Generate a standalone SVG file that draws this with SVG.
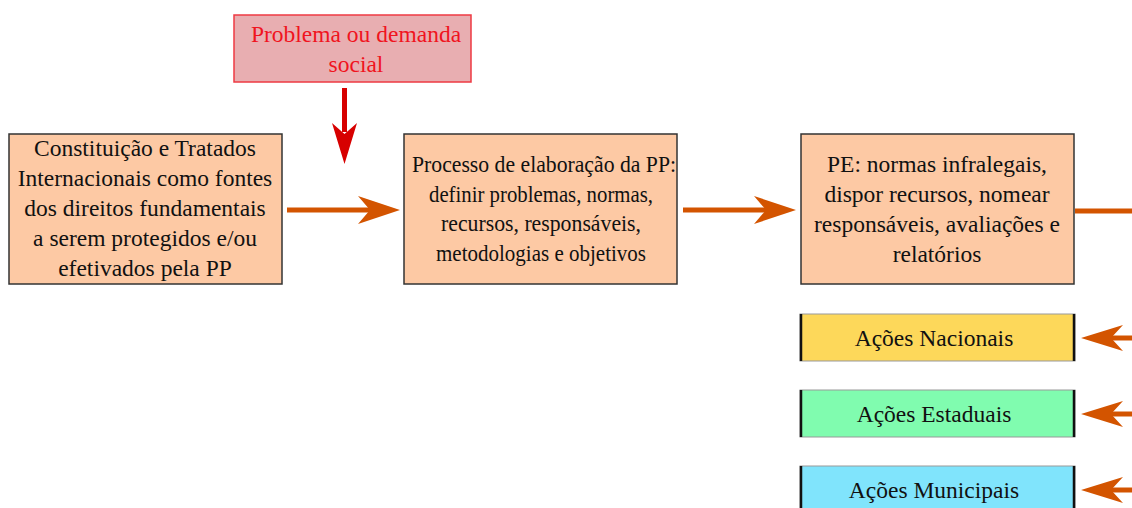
<svg xmlns="http://www.w3.org/2000/svg" width="1132" height="508" viewBox="0 0 1132 508">
<style>
.box{fill:#fdc9a4;stroke:#333;stroke-width:1.5}
.t{font-family:"Liberation Serif","Times New Roman",serif;font-size:23.5px;fill:#111;text-anchor:middle}
.tn{font-family:"Liberation Serif","Times New Roman",serif;font-size:23.5px;fill:#111;text-anchor:middle}
.red{fill:#f0141e}
.conn{stroke:#d35400;stroke-width:5;fill:none}
.head{fill:#d35400}
.act{stroke:#999;stroke-width:1}
.side{stroke:#111;stroke-width:2.5}
</style>
<rect width="1132" height="508" fill="#fff"/>
<g id="problema">
<rect x="234" y="15" width="237" height="67" fill="#e8aeb1" stroke="#ee3a43" stroke-width="1.5"/>
<text class="t red" x="356" y="42">Problema ou demanda</text>
<text class="t red" x="356" y="72">social</text>
</g>
<g id="constituicao">
<rect class="box" x="9" y="134" width="273" height="150"/>
<text class="t" x="145" y="156">Constituição e Tratados</text>
<text class="t" x="145" y="186">Internacionais como fontes</text>
<text class="t" x="145" y="216">dos direitos fundamentais</text>
<text class="t" x="145" y="246">a serem protegidos e/ou</text>
<text class="t" x="145" y="276">efetivados pela PP</text>
</g>
<g id="processo">
<rect class="box" x="404" y="134" width="273" height="150"/>
<text class="tn" x="544" y="172" textLength="264" lengthAdjust="spacingAndGlyphs">Processo de elaboração da PP:</text>
<text class="tn" x="541" y="202" textLength="224" lengthAdjust="spacingAndGlyphs">definir problemas, normas,</text>
<text class="tn" x="541" y="231" textLength="200" lengthAdjust="spacingAndGlyphs">recursos, responsáveis,</text>
<text class="tn" x="541" y="261" textLength="210" lengthAdjust="spacingAndGlyphs">metodologias e objetivos</text>
</g>
<g id="pe">
<rect class="box" x="801" y="134" width="273" height="150"/>
<text class="t" x="937" y="172">PE: normas infralegais,</text>
<text class="t" x="937" y="202">dispor recursos, nomear</text>
<text class="t" x="937" y="232">responsáveis, avaliações e</text>
<text class="t" x="937" y="262">relatórios</text>
</g>
<g id="nacionais">
<rect class="act" x="800" y="314" width="275" height="47" fill="#fdd85a"/>
<line class="side" x1="801" y1="314" x2="801" y2="361"/><line class="side" x1="1074" y1="314" x2="1074" y2="361"/>
<text class="t" x="934" y="346">Ações Nacionais</text>
</g>
<g id="estaduais">
<rect class="act" x="800" y="390" width="275" height="47" fill="#80fcaf"/>
<line class="side" x1="801" y1="390" x2="801" y2="437"/><line class="side" x1="1074" y1="390" x2="1074" y2="437"/>
<text class="t" x="934" y="422">Ações Estaduais</text>
</g>
<g id="municipais">
<rect class="act" x="800" y="466" width="275" height="47" fill="#80e4fc"/>
<line class="side" x1="801" y1="466" x2="801" y2="513"/><line class="side" x1="1074" y1="466" x2="1074" y2="513"/>
<text class="t" x="934" y="498">Ações Municipais</text>
</g>
<g id="connectors">
<line x1="344.5" y1="88" x2="344.5" y2="132" stroke="#d70000" stroke-width="5"/>
<path d="M344.5 164 L332 123 L344.5 134 L357 123 Z" fill="#d70000"/>
<line class="conn" x1="287" y1="210" x2="372" y2="210"/>
<path class="head" d="M400 210 L358 196 L370 210 L358 224 Z"/>
<line class="conn" x1="683" y1="210" x2="768" y2="210"/>
<path class="head" d="M796 210 L754 196 L766 210 L754 224 Z"/>
<line class="conn" x1="1075" y1="211" x2="1132" y2="211"/>
<line class="conn" x1="1108" y1="338" x2="1132" y2="338"/>
<path class="head" d="M1081 338 L1123 325 L1111 338 L1123 351 Z"/>
<line class="conn" x1="1108" y1="414" x2="1132" y2="414"/>
<path class="head" d="M1081 414 L1123 401 L1111 414 L1123 427 Z"/>
<line class="conn" x1="1108" y1="490" x2="1132" y2="490"/>
<path class="head" d="M1081 490 L1123 477 L1111 490 L1123 503 Z"/>
</g>
</svg>
